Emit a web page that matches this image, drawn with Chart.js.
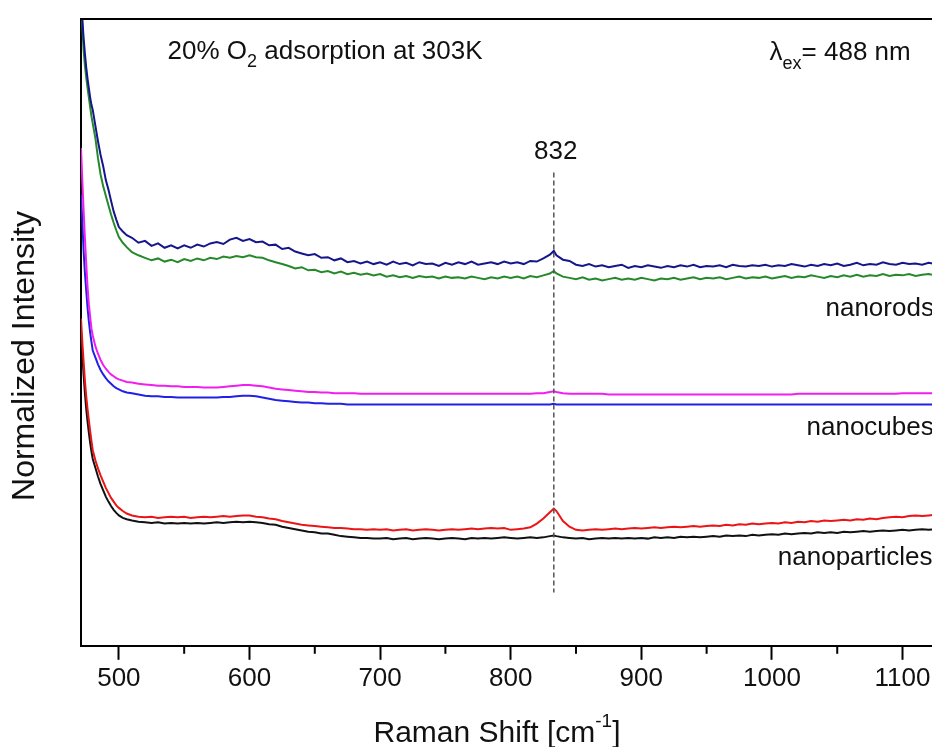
<!DOCTYPE html>
<html>
<head>
<meta charset="utf-8">
<script src="https://cdn.jsdelivr.net/npm/chart.js@4.4.1/dist/chart.umd.min.js"></script>
<style>
  html, body { margin: 0; padding: 0; background: #fff; overflow: hidden; }
  #wrap { position: relative; width: 1000px; height: 747px; }
</style>
</head>
<body>
<div id="wrap"><canvas id="chart"></canvas></div>
<script>
// Raman shift grid (cm-1), shared by all spectra
const ramanShift = [
  471, 472, 473, 474, 475, 476, 477, 478, 479, 480,
  482, 484, 486, 488, 490, 492, 494, 496, 498, 500,
  503, 506, 510, 515, 520, 525, 530, 535, 540, 545,
  550, 555, 560, 565, 570, 575, 580, 585, 590, 595,
  600, 605, 610, 615, 620, 625, 630, 635, 640, 645,
  650, 655, 660, 665, 670, 675, 680, 685, 690, 695,
  700, 705, 710, 715, 720, 725, 730, 735, 740, 745,
  750, 755, 760, 765, 770, 775, 780, 785, 790, 795,
  800, 805, 810, 815, 820, 825, 830, 833, 835, 840,
  845, 850, 855, 860, 865, 870, 875, 880, 885, 890,
  895, 900, 905, 910, 915, 920, 925, 930, 935, 940,
  945, 950, 955, 960, 965, 970, 975, 980, 985, 990,
  995, 1000, 1005, 1010, 1015, 1020, 1025, 1030, 1035, 1040,
  1045, 1050, 1055, 1060, 1065, 1070, 1075, 1080, 1085, 1090,
  1095, 1100, 1105, 1110, 1115, 1120, 1125
];

// nanorods, upper trace (dark blue)
const rodsUpper = [
  106, 100, 97, 94.5, 92.3, 90.5, 89, 87.5, 86.3, 85.5,
  83, 80.5, 78.3, 76.5, 74.3, 72.8, 71, 69.3, 68, 66.8,
  66.1, 65.5, 65.1, 64.3, 64.6, 63.8, 64.2, 63.5, 63.9, 63.4,
  63.9, 63.5, 64.0, 63.7, 64.2, 64.4, 64.1, 64.8, 65.1, 64.6,
  64.9, 64.4, 64.5, 63.9, 64.0, 63.3, 63.5, 62.9, 62.6, 62.3,
  62.5, 61.9, 62.0, 61.5, 61.8, 61.2, 61.4, 61.0, 61.3, 60.9,
  61.2, 60.8, 61.3, 60.9, 61.1, 60.7, 61.2, 60.9, 61.0, 60.6,
  61.1, 60.8, 61.2, 60.9, 61.3, 60.8, 61.0, 61.2, 60.9, 61.3,
  61.0, 61.2, 60.9, 61.4, 61.3, 61.8, 62.4, 63.0, 62.3, 61.6,
  61.4, 60.8, 60.6, 60.9, 60.5, 60.7, 60.4, 60.6, 60.8, 60.3,
  60.6, 60.4, 60.7, 60.5, 60.3, 60.6, 60.4, 60.7, 60.5, 60.8,
  60.4, 60.6, 60.5, 60.7, 60.4, 60.8, 60.6, 60.5, 60.7, 60.6,
  60.8, 60.5, 60.7, 60.6, 60.9, 60.7, 60.5, 60.8, 60.6, 60.9,
  60.7, 61.0, 60.6, 60.8, 61.1, 60.7, 60.9, 60.8, 61.2, 60.9,
  60.8, 61.1, 60.9, 61.0, 60.8, 61.1, 60.9
];

// nanorods, lower trace (green)
const rodsLower = [
  106, 99, 95, 92.5, 90.7, 89, 87.5, 86, 84.5, 83.3,
  81, 77.8, 75.2, 73.3, 71.8, 70.3, 68.8, 67.5, 66.3, 65.2,
  64.3, 63.6, 62.8, 62.3, 61.9, 61.5, 61.8, 61.3, 61.6, 61.2,
  61.7, 61.4, 61.8, 61.5, 61.9, 61.7, 62.1, 61.9, 62.2, 62.0,
  62.3, 62.0, 61.9, 61.5, 61.2, 60.9, 60.6, 60.2, 60.4, 59.9,
  60.0, 59.6, 59.8, 59.4, 59.7, 59.3, 59.5, 59.2, 59.4, 59.1,
  59.3, 58.9, 59.1, 58.8, 59.0, 58.7, 59.0, 58.8, 58.9, 58.6,
  58.9, 58.7, 58.8, 58.6, 58.9, 58.7, 58.5, 58.8, 58.6, 58.9,
  58.7, 58.9, 58.6, 59.0, 58.8, 59.1, 59.4, 59.8, 59.4, 58.9,
  58.7, 58.5, 58.8, 58.4, 58.6, 58.3, 58.5, 58.7, 58.4, 58.6,
  58.4, 58.7, 58.5, 58.3, 58.6, 58.5, 58.7, 58.4, 58.6, 58.8,
  58.5, 58.7, 58.6, 58.8, 58.5, 58.7, 58.9, 58.6, 58.8, 58.7,
  58.9, 58.6, 58.8, 59.0, 58.7, 58.9, 58.8, 59.1, 58.9, 58.7,
  59.0, 58.8, 59.1, 58.9, 59.2, 58.9, 59.1, 59.0, 59.3, 59.0,
  59.2, 59.1, 59.3, 59.0, 59.2, 59.3, 59.1
];

// nanocubes, upper trace (magenta)
const cubesUpper = [
  79.4, 74.3, 69.5, 65.0, 61.0, 57.3, 54.5, 52.5, 50.6, 49.5,
  47.8, 46.6, 45.6, 44.8, 44.2, 43.7, 43.3, 43.0, 42.7, 42.5,
  42.3, 42.1, 42.0, 41.8, 41.7, 41.6, 41.5, 41.5, 41.4, 41.4,
  41.3, 41.3, 41.3, 41.2, 41.2, 41.2, 41.3, 41.4, 41.5, 41.6,
  41.6, 41.5, 41.4, 41.2, 41.0, 40.9, 40.8, 40.7, 40.6, 40.5,
  40.5, 40.4, 40.4, 40.3, 40.3, 40.3, 40.3, 40.2, 40.2, 40.2,
  40.2, 40.2, 40.2, 40.2, 40.2, 40.2, 40.2, 40.2, 40.2, 40.2,
  40.2, 40.2, 40.2, 40.2, 40.2, 40.2, 40.2, 40.2, 40.2, 40.2,
  40.2, 40.2, 40.2, 40.2, 40.3, 40.3, 40.5, 40.6, 40.5, 40.3,
  40.2, 40.2, 40.2, 40.2, 40.2, 40.2, 40.1, 40.1, 40.1, 40.1,
  40.1, 40.1, 40.1, 40.1, 40.1, 40.1, 40.1, 40.1, 40.1, 40.1,
  40.1, 40.1, 40.1, 40.1, 40.1, 40.1, 40.1, 40.1, 40.1, 40.1,
  40.1, 40.1, 40.1, 40.1, 40.1, 40.2, 40.2, 40.2, 40.2, 40.2,
  40.2, 40.2, 40.2, 40.2, 40.2, 40.2, 40.2, 40.2, 40.2, 40.2,
  40.2, 40.3, 40.3, 40.3, 40.3, 40.3, 40.3
];

// nanocubes, lower trace (blue)
const cubesLower = [
  72.0, 67.9, 63.0, 59.5, 56.7, 54.0, 51.8, 50.0, 48.5, 47.1,
  46.0, 44.9, 44.0, 43.3, 42.7, 42.2, 41.8, 41.4, 41.1, 40.9,
  40.6, 40.4, 40.3, 40.1, 39.9, 39.8, 39.8, 39.7, 39.7, 39.6,
  39.6, 39.6, 39.6, 39.6, 39.6, 39.6, 39.7, 39.7, 39.8, 39.9,
  39.9, 39.8, 39.6, 39.4, 39.2, 39.1, 39.0, 38.9, 38.8, 38.8,
  38.7, 38.7, 38.6, 38.6, 38.6, 38.5, 38.5, 38.5, 38.5, 38.5,
  38.5, 38.5, 38.5, 38.5, 38.5, 38.5, 38.5, 38.5, 38.5, 38.5,
  38.5, 38.5, 38.5, 38.5, 38.5, 38.5, 38.5, 38.5, 38.5, 38.5,
  38.5, 38.5, 38.5, 38.5, 38.5, 38.5, 38.5, 38.6, 38.5, 38.5,
  38.5, 38.5, 38.5, 38.5, 38.5, 38.5, 38.5, 38.5, 38.5, 38.5,
  38.5, 38.5, 38.5, 38.5, 38.5, 38.5, 38.5, 38.5, 38.5, 38.5,
  38.5, 38.5, 38.5, 38.5, 38.5, 38.5, 38.5, 38.5, 38.5, 38.5,
  38.5, 38.5, 38.5, 38.5, 38.5, 38.5, 38.5, 38.5, 38.5, 38.5,
  38.5, 38.5, 38.5, 38.5, 38.5, 38.5, 38.5, 38.5, 38.5, 38.5,
  38.5, 38.5, 38.5, 38.5, 38.5, 38.5, 38.5
];

// nanoparticles, upper trace (red)
const particlesUpper = [
  52.2, 48.5, 45.3, 42.3, 39.8, 37.8, 36.0, 34.3, 32.7, 31.2,
  29.6, 28.3, 27.2, 26.2, 25.2, 24.4, 23.6, 23.0, 22.4, 22.0,
  21.5, 21.1, 20.8, 20.6, 20.5, 20.6, 20.4, 20.5, 20.6, 20.5,
  20.6, 20.4, 20.5, 20.6, 20.5, 20.6, 20.7, 20.6, 20.7, 20.8,
  20.8, 20.6, 20.5, 20.3, 20.2, 19.9, 19.7, 19.5, 19.3, 19.2,
  19.1, 19.0, 18.9, 18.8, 18.8, 18.7, 18.6, 18.6, 18.5, 18.6,
  18.5, 18.6, 18.4, 18.5, 18.6, 18.4, 18.5, 18.6, 18.5, 18.4,
  18.5, 18.6, 18.5, 18.6, 18.7, 18.6, 18.7, 18.8, 18.7, 18.8,
  18.5, 18.6, 18.7, 18.9, 19.5, 20.3, 21.3, 21.9, 21.5, 19.9,
  19.0, 18.5, 18.4, 18.5, 18.6, 18.5, 18.6, 18.7, 18.6, 18.7,
  18.8, 18.7, 18.8, 18.9, 18.8, 18.9, 19.0, 18.9, 19.0, 19.1,
  19.0, 19.1, 19.2, 19.1, 19.3, 19.2, 19.4, 19.3, 19.5, 19.4,
  19.5, 19.6, 19.5, 19.7, 19.6, 19.8, 19.7, 19.9, 19.8, 20.0,
  19.9, 20.0, 20.1, 20.0, 20.2, 20.1, 20.3, 20.2, 20.4, 20.5,
  20.6, 20.5, 20.7, 20.8, 20.7, 20.8, 20.9
];

// nanoparticles, lower trace (black)
const particlesLower = [
  50.3, 46.5, 43.2, 40.3, 37.8, 35.8, 34.0, 32.4, 31.0, 29.8,
  28.4, 27.0, 25.8, 24.8, 23.8, 23.0, 22.3, 21.7, 21.2, 20.8,
  20.4, 20.2, 20.0, 19.8, 19.7, 19.6, 19.7, 19.5, 19.6, 19.5,
  19.6, 19.5, 19.6, 19.5, 19.6, 19.7, 19.6, 19.7, 19.8, 19.7,
  19.8, 19.7, 19.6, 19.4, 19.3, 19.0, 18.8, 18.6, 18.4, 18.2,
  18.1, 17.9, 17.9, 17.7, 17.5, 17.4, 17.3, 17.2, 17.2, 17.1,
  17.1, 17.2, 17.0, 17.1, 17.2, 17.0, 17.1, 17.2, 17.1, 17.0,
  17.1, 17.2, 17.1, 17.0, 17.2, 17.1, 17.2, 17.1, 17.2, 17.3,
  17.2, 17.1, 17.2, 17.3, 17.2, 17.3, 17.5, 17.6, 17.5, 17.3,
  17.2, 17.1, 17.2, 17.0, 17.1, 17.2, 17.1, 17.2, 17.1, 17.2,
  17.1, 17.2, 17.1, 17.3, 17.2, 17.3, 17.2, 17.4, 17.3, 17.4,
  17.3, 17.4, 17.5, 17.4, 17.6, 17.5, 17.6, 17.5, 17.7, 17.6,
  17.7, 17.8, 17.7, 17.9, 17.8, 17.9, 18.0, 17.9, 18.1, 18.0,
  18.1, 18.0, 18.2, 18.1, 18.2, 18.3, 18.2, 18.3, 18.4, 18.3,
  18.4, 18.5, 18.4, 18.5, 18.6, 18.5, 18.6
];

const xTicks = [500, 550, 600, 650, 700, 750, 800, 850, 900, 950, 1000, 1050, 1100];
const xRange = [471, 1144];
const yRange = [0, 100];

// annotations (data coordinates)
const peakShift = 833;
const peakText = '832';
const peakLineSpan = [8.5, 75.5];
const peakTextAt = 78.8;
const sampleLabels = [
  { text: 'nanorods', x: 1041, y: 53.8 },
  { text: 'nanocubes', x: 1026.5, y: 34.7 },
  { text: 'nanoparticles', x: 1004.5, y: 14.1 }
];
const noteAt = { x: 537.3, y: 94.7 };
const laserAt = { x: 998.2, y: 94.6 };

const FONT = '"Liberation Sans", Arial, sans-serif';

function series(label, values, color) {
  return {
    label,
    data: ramanShift.map((x, i) => ({ x, y: values[i] })),
    borderColor: color,
    borderWidth: 2,
    pointRadius: 0,
    tension: 0,
    fill: false
  };
}

function drawRuns(ctx, x, y, runs, align) {
  let total = 0;
  runs.forEach(r => {
    ctx.font = `${r.size}px ${FONT}`;
    r.w = ctx.measureText(r.text).width;
    total += r.w;
  });
  let cx = align === 'center' ? x - total / 2 : x;
  ctx.textAlign = 'left';
  ctx.textBaseline = 'middle';
  runs.forEach(r => {
    ctx.font = `${r.size}px ${FONT}`;
    ctx.fillText(r.text, cx, y + (r.dy || 0));
    cx += r.w;
  });
}

const overlay = {
  id: 'overlay',
  afterDraw(chart) {
    const { ctx, chartArea: a } = chart;
    const xs = chart.scales.x, ys = chart.scales.y;
    ctx.save();

    // top frame line
    ctx.strokeStyle = '#000';
    ctx.lineWidth = 2;
    ctx.beginPath();
    ctx.moveTo(a.left - 1, a.top);
    ctx.lineTo(a.right, a.top);
    ctx.stroke();

    // minor ticks (short)
    xs.ticks.forEach(t => {
      if (t.value % 100 !== 0) {
        const px = xs.getPixelForValue(t.value);
        ctx.beginPath();
        ctx.moveTo(px, a.bottom);
        ctx.lineTo(px, a.bottom + 8);
        ctx.stroke();
      }
    });

    // dashed marker at the peak
    const px = xs.getPixelForValue(peakShift);
    ctx.strokeStyle = '#555';
    ctx.lineWidth = 1.5;
    ctx.setLineDash([5, 3]);
    ctx.beginPath();
    ctx.moveTo(px, ys.getPixelForValue(peakLineSpan[1]));
    ctx.lineTo(px, ys.getPixelForValue(peakLineSpan[0]));
    ctx.stroke();
    ctx.setLineDash([]);

    ctx.fillStyle = '#111';
    drawRuns(ctx, px + 2, ys.getPixelForValue(peakTextAt), [{ text: peakText, size: 26 }], 'center');

    sampleLabels.forEach(s => {
      drawRuns(ctx, xs.getPixelForValue(s.x), ys.getPixelForValue(s.y), [{ text: s.text, size: 26 }]);
    });

    drawRuns(ctx, xs.getPixelForValue(noteAt.x), ys.getPixelForValue(noteAt.y), [
      { text: '20% O', size: 26 },
      { text: '2', size: 18, dy: 10 },
      { text: ' adsorption at 303K', size: 26 }
    ]);
    drawRuns(ctx, xs.getPixelForValue(laserAt.x), ys.getPixelForValue(laserAt.y), [
      { text: 'λ', size: 26 },
      { text: 'ex', size: 18, dy: 11 },
      { text: '= 488 nm', size: 26 }
    ]);

    // axis titles
    drawRuns(ctx, 497, 734, [
      { text: 'Raman Shift [cm', size: 30 },
      { text: '-1', size: 19, dy: -12 },
      { text: ']', size: 30 }
    ], 'center');

    ctx.translate(25, 356);
    ctx.rotate(-Math.PI / 2);
    drawRuns(ctx, 0, 0, [{ text: 'Normalized Intensity', size: 32 }], 'center');

    ctx.restore();
  }
};

new Chart(document.getElementById('chart'), {
  type: 'line',
  data: {
    datasets: [
      series('nanorods (a)', rodsUpper, '#16168c'),
      series('nanorods (b)', rodsLower, '#25892a'),
      series('nanocubes (a)', cubesUpper, '#f01ef0'),
      series('nanocubes (b)', cubesLower, '#2020e6'),
      series('nanoparticles (a)', particlesUpper, '#ec1515'),
      series('nanoparticles (b)', particlesLower, '#111111')
    ]
  },
  options: {
    responsive: true,
    maintainAspectRatio: false,
    animation: false,
    layout: { padding: { left: 81, top: 19, right: 40, bottom: 50 } },
    plugins: { legend: { display: false }, tooltip: { enabled: false } },
    scales: {
      x: {
        type: 'linear',
        min: xRange[0],
        max: xRange[1],
        afterBuildTicks: s => { s.ticks = xTicks.map(v => ({ value: v })); },
        ticks: {
          autoSkip: false,
          maxRotation: 0,
          padding: 3,
          color: '#111',
          font: { family: FONT, size: 26 },
          callback: v => (v % 100 === 0 ? String(v) : '')
        },
        grid: {
          display: true,
          drawOnChartArea: false,
          drawTicks: true,
          tickLength: 14,
          tickWidth: 2,
          tickColor: c => (c.tick && c.tick.value % 100 === 0 ? '#000' : 'rgba(0,0,0,0)')
        },
        border: { display: true, color: '#000', width: 2 }
      },
      y: {
        min: yRange[0],
        max: yRange[1],
        ticks: { display: false },
        grid: { display: false, drawTicks: false },
        border: { display: true, color: '#000', width: 2 }
      }
    }
  },
  plugins: [overlay]
});
</script>
</body>
</html>
